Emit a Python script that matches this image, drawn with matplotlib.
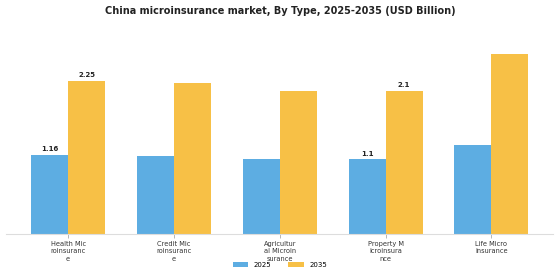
import matplotlib
matplotlib.use("Agg")
import matplotlib.pyplot as plt
import numpy as np

# data
categories = ["Health Mic\nroinsuranc\ne", "Credit Mic\nroinsuranc\ne",
              "Agricultur\nal Microin\nsurance", "Property M\nicroinsura\nnce",
              "Life Micro\ninsurance"]
values_2025 = [1.16, 1.15, 1.11, 1.1, 1.31]
values_2035 = [2.25, 2.22, 2.11, 2.1, 2.64]
labelled = [0, 3]  # groups that carry value labels

blue = '#5DADE2'
orange = '#F7C046'

fig = plt.figure(figsize=(5.6, 2.8), dpi=100)
ax = fig.add_axes([0.011, 0.164, 0.977, 0.729])

x = np.arange(len(categories))
w = 0.35
ax.bar(x - w / 2, values_2025, w, color=blue, label='2025')
ax.bar(x + w / 2, values_2035, w, color=orange, label='2035')

for i in labelled:
    ax.text(x[i] - w / 2, values_2025[i] + 0.04, f"{values_2025[i]:g}", ha='center', va='bottom',
            fontsize=5, fontweight='bold', color='#222222')
    ax.text(x[i] + w / 2, values_2035[i] + 0.04, f"{values_2035[i]:g}", ha='center', va='bottom',
            fontsize=5, fontweight='bold', color='#222222')

ax.set_ylim(0, 3.0)
ax.set_xticks(x)
ax.set_xticklabels(categories, fontsize=4.8, color='#333333', linespacing=1.25)
ax.set_yticks([])
for s in ['top', 'right', 'left']:
    ax.spines[s].set_visible(False)
ax.spines['bottom'].set_color('#dddddd')
ax.tick_params(axis='x', length=3, width=0.6, color='#aaaaaa', pad=2)

fig.suptitle("China microinsurance market, By Type, 2025-2035 (USD Billion)",
             fontsize=7, fontweight='bold', y=0.978, color='#222222')

ax.legend(loc='upper center', bbox_to_anchor=(0.5, -0.105), ncol=2, frameon=False,
          fontsize=5, handlelength=2.2, handleheight=0.8, columnspacing=2.5)

fig.savefig('out.png', dpi=100, facecolor='white')
